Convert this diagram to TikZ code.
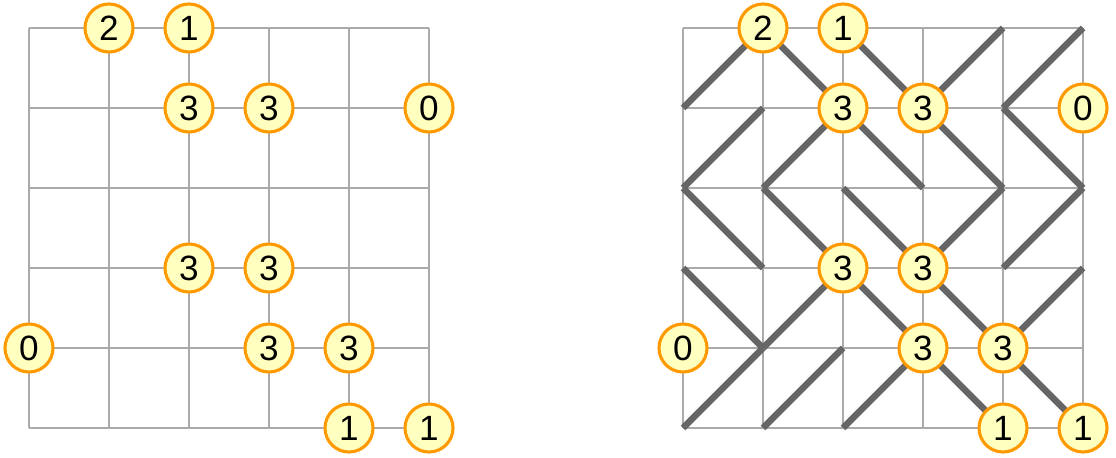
\documentclass[tikz,border=0pt]{standalone}
\usepackage{fontspec}
\setmainfont{Liberation Sans}
\usepackage{tikz}
\usetikzlibrary{positioning, calc}
\definecolor{slant-grid}{RGB}{170,170,170}
\definecolor{slant-line}{RGB}{102,102,102}
\definecolor{slant-orange}{RGB}{255,153,0}
\definecolor{slant-fill}{RGB}{255,255,192}

\begin{document}
\begin{tikzpicture}[
    gridline/.style={draw=slant-grid, line width=0.6pt},
    diag/.style={draw=slant-line, line width=2.3pt},
    clue/.style={circle, draw=slant-orange, fill=slant-fill, line width=1.1pt, minimum size=0.6cm, inner sep=0pt, font=\fontsize{12.5}{12.5}\selectfont}
]
    \useasboundingbox (-0.3625,0.35) rectangle (13.5875,-5.3625);

    % Gitter
    \draw[gridline] (0,-5) grid (5,0);
    \draw[gridline, xshift=8.175cm] (0,-5) grid (5,0);

    % Eckpunkte
    \foreach \c in {0,...,5}
        \foreach \r in {0,...,5} {
            \coordinate (L\c\r) at (\c,-\r);
            \coordinate (R\c\r) at (8.175+\c,-\r);
        }

    % Loesung
    \foreach \a/\b in {01/10, 10/21, 20/31, 31/40, 41/50,
                       02/11, 12/21, 21/32, 31/42, 41/52,
                       02/13, 12/23, 22/33, 33/42, 43/52,
                       03/14, 14/23, 23/34, 33/44, 44/53,
                       05/14, 15/24, 25/34, 34/45, 44/55}
        \draw[diag] (R\a) -- (R\b);

    % Zahlen
    \foreach \p/\v in {10/2, 20/1, 21/3, 31/3, 51/0, 23/3,
                       33/3, 04/0, 34/3, 44/3, 45/1, 55/1} {
        \node[clue] (lclue\p) at (L\p) {\v};
        \node[clue] (rclue\p) at (R\p) {\v};
    }
\end{tikzpicture}
\end{document}
